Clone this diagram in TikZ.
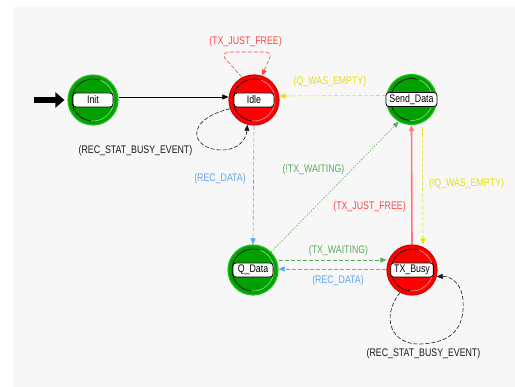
\documentclass[tikz,border=0pt]{standalone}
\usepackage{fontspec}
\setmainfont{Liberation Sans}[FakeStretch=0.8]
\usetikzlibrary{arrows.meta,calc}
\definecolor{panel}{RGB}{247,247,247}
\definecolor{stgreen}{RGB}{0,160,0}
\definecolor{stgreenedge}{RGB}{30,190,30}
\definecolor{stgreenin}{RGB}{150,225,150}
\definecolor{stred}{RGB}{255,0,0}
\definecolor{strededge}{RGB}{215,0,0}
\definecolor{stredin}{RGB}{255,160,160}
\definecolor{tred}{RGB}{255,70,70}
\definecolor{lred}{RGB}{255,120,120}
\definecolor{tyellow}{RGB}{232,226,0}
\definecolor{tblue}{RGB}{95,165,240}
\definecolor{tgreen}{RGB}{95,170,95}
\definecolor{tblack}{RGB}{25,25,25}
\tikzset{
  lbl/.style={font=\fontsize{11}{13}\selectfont, inner sep=0pt},
  state/.style={circle, minimum size=50pt, inner sep=0pt, line width=1.2pt},
  greenstate/.style={state, fill=stgreen, draw=stgreenedge},
  redstate/.style={state, fill=stred, draw=strededge},
  namebox/.style={rounded corners=3pt, draw=black, fill=white, line width=0.8pt,
    minimum width=40pt, minimum height=14pt, inner xsep=3.5pt, inner ysep=0pt,
    font=\fontsize{11}{13}\selectfont},
  trans/.style={-{Triangle[length=6pt,width=5pt]}, line width=0.6pt},
  dashpat/.style={dash pattern=on 4pt off 2pt},
  dotpat/.style={dash pattern=on 1.5pt off 1.5pt}
}
\newcommand\stdeco[2]{%
  \draw[black, line width=0.6pt] ($(#1.center)+(70:21pt)$) arc[start angle=70,end angle=265,radius=21pt];
  \draw[#2, line width=0.6pt] ($(#1.center)+(-95:21pt)$) arc[start angle=-95,end angle=70,radius=21pt];
}
\begin{document}
\begin{tikzpicture}[x=1pt,y=-1pt]
\useasboundingbox (0,0) rectangle (515,387);
\fill[white] (0,0) rectangle (515,387);
\fill[panel] (13,7) rectangle (515,387);

% states
\node[greenstate] (init) at (93,100) {};
\node[redstate] (idle) at (254,100) {};
\node[greenstate] (send) at (411.5,99.5) {};
\node[greenstate] (qdata) at (253,270) {};
\node[redstate] (txbusy) at (412,270) {};
\stdeco{init}{stgreenin}
\stdeco{idle}{stredin}
\stdeco{send}{stgreenin}
\stdeco{qdata}{stgreenin}
\stdeco{txbusy}{stredin}

% start arrow
\coordinate (startpt) at (34,100);
\draw[line width=6pt, -{Triangle[length=9pt,width=15pt]}] (startpt) -- ($(init.west)+(-3,0)$);

% transitions
\draw[trans, black] ($(init.east)+(0,-3)$) -- ($(idle.west)+(0,-3)$);
\draw[trans, tred, dashpat, rounded corners=2pt] (idle.118) -- (223,56) -- (226,52) -- (268,52) -- (271,55) -- (idle.72);
\draw[trans, tblack, dashpat] (idle.200) .. controls (183,120) and (191,150) .. (222,150) .. controls (238,150) and (246,140) .. (idle.255);
\draw[trans, tyellow, dashpat] ($(send.west)+(0,-4)$) -- ($(idle.east)+(0,-4)$);
\draw[trans, tblue, dashpat] (idle.south) -- (qdata.north);
\draw[trans, tgreen, dotpat] (qdata.45) -- (send.240);
\draw[trans, tyellow, dashpat] ($(send.south)+(11,2)$) -- ($(txbusy.north)+(11,0)$);
\draw[-{Triangle[length=6pt,width=5pt]}, lred, line width=1.6pt] (txbusy.north) -- (send.south);
\draw[trans, tgreen, dashpat] ($(qdata.east)+(0,-10)$) -- ($(txbusy.west)+(0,-10)$);
\draw[trans, tblue, dashpat] ($(txbusy.west)+(0,-1)$) -- ($(qdata.east)+(0,-1)$);
\draw[trans, tblack, dashpat] (txbusy.242) .. controls (380,318) and (392,345) .. (420,344) .. controls (452,343) and (465,328) .. (463,300) .. controls (462,285) and (452,276) .. (txbusy.345);

% name boxes
\node[namebox] (initlbl) at (init.center) {Init};
\node[namebox] (idlelbl) at (idle.center) {Idle};
\node[namebox] (sendlbl) at (send.center) {Send\_Data};
\node[namebox] (qdatalbl) at (qdata.center) {Q\_Data};
\node[namebox] (txbusylbl) at (txbusy.center) {TX\_Busy};

% transition labels
\node[lbl, text=tred] (l1) at (245.5,42) {(TX\_JUST\_FREE)};
\node[lbl, text=tblack] (l2) at (135.5,151) {(REC\_STAT\_BUSY\_EVENT)};
\node[lbl, text=tyellow] (l3) at (330,82) {(Q\_WAS\_EMPTY)};
\node[lbl, text=tblue] (l4) at (220,179) {(REC\_DATA)};
\node[lbl, text=tgreen] (l5) at (313.5,170) {(!TX\_WAITING)};
\node[lbl, text=tyellow] (l6) at (466.5,184) {(!Q\_WAS\_EMPTY)};
\node[lbl, text=tred] (l7) at (369.5,207) {(TX\_JUST\_FREE)};
\node[lbl, text=tgreen] (l8) at (338.5,251) {(TX\_WAITING)};
\node[lbl, text=tblue] (l9) at (338,281) {(REC\_DATA)};
\node[lbl, text=tblack] (l10) at (423.5,354) {(REC\_STAT\_BUSY\_EVENT)};
\end{tikzpicture}
\end{document}
